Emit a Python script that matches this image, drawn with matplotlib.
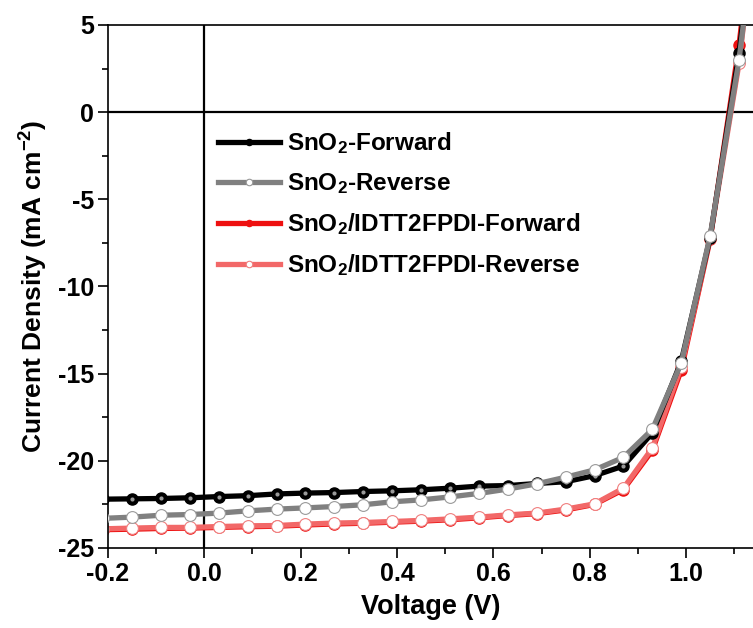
import numpy as np
import matplotlib
matplotlib.use("Agg")
import matplotlib.pyplot as plt
from matplotlib.ticker import MultipleLocator

plt.rcParams['font.family'] = ['Liberation Sans', 'DejaVu Sans']
plt.rcParams['font.weight'] = 'bold'
plt.rcParams['mathtext.fontset'] = 'custom'
plt.rcParams['mathtext.rm'] = 'Liberation Sans:bold'
plt.rcParams['mathtext.bf'] = 'Liberation Sans:bold'
plt.rcParams['mathtext.it'] = 'Liberation Sans:bold'
plt.rcParams['mathtext.default'] = 'bf'
plt.rcParams['axes.unicode_minus'] = False

# voltage (V)
voltage = [-0.21, -0.15, -0.09, -0.03, 0.03, 0.09, 0.15, 0.21, 0.27, 0.33, 0.39, 0.45,
           0.51, 0.57, 0.63, 0.69, 0.75, 0.81, 0.87, 0.93, 0.99, 1.05, 1.11, 1.17]

# current density (mA cm-2)
sno2_fwd = [-22.2, -22.18, -22.16, -22.12, -22.05, -22.0, -21.9, -21.85, -21.82, -21.76,
            -21.72, -21.66, -21.57, -21.45, -21.42, -21.3, -21.2, -20.85, -20.3, -18.4,
            -14.3, -7.2, 3.4, 17.0]
sno2_rev = [-23.3, -23.23, -23.12, -23.08, -23.0, -22.87, -22.77, -22.7, -22.62, -22.52,
            -22.35, -22.24, -22.07, -21.87, -21.62, -21.32, -20.94, -20.52, -19.8, -18.2,
            -14.4, -7.1, 3.0, 16.5]
idt_fwd = [-23.95, -23.92, -23.88, -23.86, -23.82, -23.78, -23.75, -23.68, -23.62, -23.58,
           -23.52, -23.46, -23.38, -23.27, -23.14, -23.03, -22.82, -22.5, -21.65, -19.4,
           -14.8, -7.3, 3.85, 18.0]
idt_rev = [-23.9, -23.86, -23.82, -23.82, -23.77, -23.73, -23.71, -23.63, -23.57, -23.54,
           -23.48, -23.42, -23.33, -23.23, -23.1, -23.0, -22.77, -22.47, -21.57, -19.27,
           -14.6, -7.2, 2.8, 17.0]

labels = ['SnO$_2$-Forward', 'SnO$_2$-Reverse',
          'SnO$_2$/IDTT2FPDI-Forward', 'SnO$_2$/IDTT2FPDI-Reverse']

fig = plt.figure(figsize=(7.53, 6.28), dpi=100)
ax = fig.add_axes([0.1434, 0.1274, 0.8566, 0.8328])

ax.axhline(0, color='black', lw=1.6, zorder=1)
ax.axvline(0, color='black', lw=1.6, zorder=1)

# forward: filled markers, reverse: open markers
ax.plot(voltage, sno2_fwd, color='black', lw=3.8, marker='o', ms=8,
        mfc='black', mec='black', label=labels[0], zorder=3)
ax.plot(voltage, sno2_fwd, ls='none', marker='o', ms=3, mfc='#9a9a9a', mec='none', zorder=3.1)
ax.plot(voltage, sno2_rev, color='#808080', lw=3.8, marker='o', ms=8.5,
        mfc='white', mec='#9a9a9a', mew=0.8, label=labels[1], zorder=3.2)
ax.plot(voltage, idt_fwd, color='#ee1010', lw=3.8, marker='o', ms=8,
        mfc='#ee1010', mec='#ee1010', label=labels[2], zorder=2)
ax.plot(voltage, idt_rev, color='#f26868', lw=3.8, marker='o', ms=8.5,
        mfc='white', mec='#f08080', mew=0.8, label=labels[3], zorder=2.5)

ax.set_xlim(-0.2, 1.139)
ax.set_ylim(-25, 5)
ax.xaxis.set_major_locator(MultipleLocator(0.2))
ax.xaxis.set_minor_locator(MultipleLocator(0.1))
ax.yaxis.set_major_locator(MultipleLocator(5))
ax.yaxis.set_minor_locator(MultipleLocator(2.5))
ax.xaxis.set_major_formatter(matplotlib.ticker.FormatStrFormatter('%.1f'))

for s in ax.spines.values():
    s.set_linewidth(1.2)
ax.spines['right'].set_visible(False)
ax.tick_params(which='major', direction='out', length=7, width=1.2, labelsize=18, pad=3)
ax.tick_params(which='minor', direction='out', length=4, width=1.2)
ax.tick_params(top=False, right=False)

ax.set_xlabel('Voltage (V)', fontsize=19.5, fontweight='bold', labelpad=6)
ax.set_ylabel('Current Density (mA cm$^{-2}$)', fontsize=19, fontweight='bold', labelpad=6)

leg = ax.legend(loc='upper left', bbox_to_anchor=(0.1705, 0.799), frameon=False,
                fontsize=17.5, handlelength=2.55, handletextpad=0.29, labelspacing=0.62,
                borderpad=0, borderaxespad=0, numpoints=1, markerscale=0.55)

fig.savefig('out.png', dpi=100)
